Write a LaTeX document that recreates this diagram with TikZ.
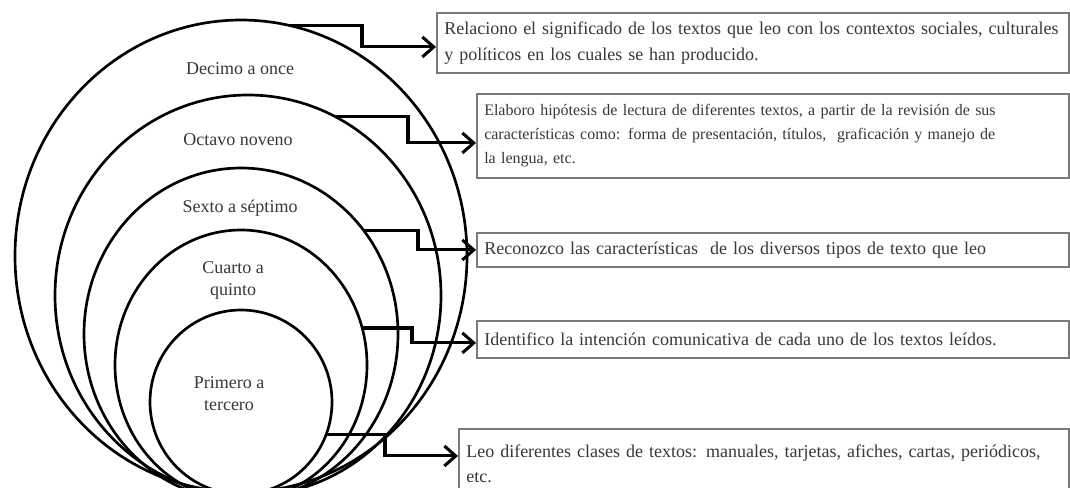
\documentclass[tikz,border=0pt]{standalone}
\usepackage{fontspec}
\setmainfont{Liberation Serif}
\usetikzlibrary{arrows.meta,shapes.geometric}
\definecolor{txt}{HTML}{383838}
\definecolor{boxgray}{HTML}{7A7A7A}
\begin{document}
\begin{tikzpicture}[x=0.75pt,y=-0.75pt,
  ring/.style={ellipse,draw=black,line width=2pt,inner sep=0pt,outer sep=0pt},
  lbl/.style={text=txt,font=\fontsize{13.5}{16.5}\selectfont,align=center,inner sep=0pt},
  textbox/.style={draw=boxgray,fill=white,line width=1.4pt,anchor=north west,inner xsep=5.5pt,inner ysep=0pt,align=left,text=txt,font=\fontsize{13.5}{19}\selectfont},
  smalltext/.style={font=\fontsize{12}{18}\selectfont},
  arr/.style={line width=2.3pt,-{Straight Barb[length=8.5pt,width=15pt]}}]
\useasboundingbox (0,0) rectangle (1070,487);
\clip (0,0) rectangle (1070,487);
\fill[white] (0,0) rectangle (1070,487);
% nested ellipses
\node[ring,minimum width=339pt,minimum height=354pt] (e1) at (241,256) {};
\node[ring,minimum width=289.5pt,minimum height=300.75pt] (e2) at (248,295.5) {};
\node[ring,minimum width=235.5pt,minimum height=249pt] (e3) at (241,334) {};
\node[ring,minimum width=189pt,minimum height=202.5pt] (e4) at (241,365) {};
\node[ring,minimum width=136.5pt,minimum height=138pt] (e5) at (241,402) {};
% labels
\node[lbl] (l1) at (240,69) {Decimo a once};
\node[lbl] (l2) at (238,140) {Octavo noveno};
\node[lbl] (l3) at (240,208) {Sexto a séptimo};
\node[lbl] (l4) at (233,280) {Cuarto a\\quinto};
\node[lbl] (l5) at (229,394) {Primero a\\tercero};
% boxes
\node[textbox,minimum width=474pt,minimum height=45pt,text width=463pt] (b1) at (436,12)
  {\mbox{Relaciono el significado de los textos que leo con los contextos sociales, culturales}\\\mbox{y políticos en los cuales se han producido.}};
\node[textbox,smalltext,minimum width=444pt,minimum height=63pt,text width=433pt] (b2) at (476,93)
  {\mbox{Elaboro hipótesis de lectura de diferentes textos, a partir de la revisión de sus}\\\mbox{características como: forma de presentación, títulos,~ graficación y manejo de}\\\mbox{la lengua, etc.}};
\node[textbox,minimum width=444pt,minimum height=25.5pt,text width=433pt] (b3) at (476,232)
  {\mbox{Reconozco las características~ de los diversos tipos de texto que leo}};
\node[textbox,minimum width=444pt,minimum height=27.75pt,text width=433pt] (b4) at (476,320)
  {\mbox{Identifico la intención comunicativa de cada uno de los textos leídos.}};
\node[textbox,minimum width=457.5pt,minimum height=52.5pt,text width=446.5pt] (b5) at (458,428)
  {\mbox{Leo diferentes clases de textos: manuales, tarjetas, afiches, cartas, periódicos,}\\\mbox{etc.}};
% connectors
\draw[arr] (e1.78) -- (e1.78 -| 362,0) |- ([yshift=-3pt]b1.west);
\draw[arr] (e2.64) -- (e2.64 -| 408,0) |- ([yshift=-5.25pt]b2.west);
\draw[arr] (e3.40) -- (e3.40 -| 418,0) |- (b3.west);
\draw[arr] (e4.17) -- (e4.17 -| 412,0) |- ([yshift=-2.6pt]b4.west);
\draw[arr] (e5.339) -- (e5.339 -| 385,0) |- ([yshift=6pt]b5.west);
\end{tikzpicture}
\end{document}
